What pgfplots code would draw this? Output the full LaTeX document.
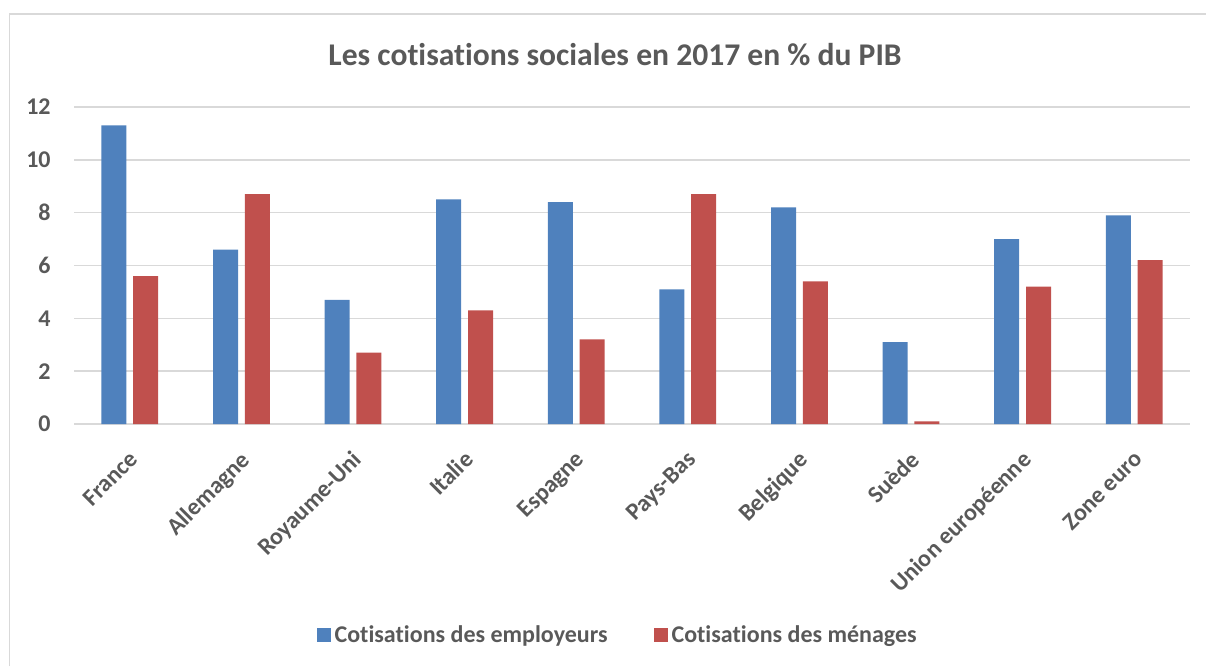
\documentclass[border=0pt]{standalone}
\usepackage{fontspec}
\setmainfont{Carlito}[Ligatures=NoCommon]
\usepackage{pgfplots}
\pgfplotsset{compat=1.18}
\definecolor{cblue}{HTML}{4F81BD}
\definecolor{cred}{HTML}{C0504D}
\definecolor{ctext}{HTML}{595959}
\definecolor{cgrid}{HTML}{D9D9D9}
\begin{document}
\begin{tikzpicture}[x=1pt,y=1pt]
\useasboundingbox (0,0) rectangle (603,333);
\draw[cgrid, line width=0.75pt] (4.75,0) -- (4.75,326) -- (604,326);
\node[font=\fontsize{15.8}{19}\selectfont\bfseries, text=ctext, anchor=base, inner sep=0pt] at (307.5,300.5) {Les cotisations sociales en 2017 en \% du PIB};
\begin{axis}[
  at={(37pt,121pt)}, anchor=south west,
  width=558pt, height=158.5pt, scale only axis,
  xmin=-0.5, xmax=9.5, ymin=0, ymax=12,
  ytick={0,2,...,12},
  xtick={0,...,9},
  xticklabels={France,Allemagne,Royaume-Uni,Italie,Espagne,Pays-Bas,Belgique,Suède,Union européenne,Zone euro},
  axis line style={draw=none},
  major tick length=0pt,
  ymajorgrids,
  grid style={cgrid, line width=0.75pt},
  /pgf/number format/assume math mode=true,
  tick label style={font=\fontsize{12}{14}\selectfont\bfseries, text=ctext},
  yticklabel style={anchor=east, inner sep=0pt, xshift=-11.5pt},
  xticklabel style={anchor=north east, inner sep=0pt, xshift=-1pt, yshift=-12.5pt, rotate=45},
  legend columns=2,
  legend style={at={(0.488,-0.666)}, anchor=center, draw=none, fill=none,
    font=\fontsize{12}{14}\selectfont\bfseries, text=ctext,
    /tikz/every even column/.append style={column sep=21pt},
    inner sep=0pt},
  legend image code/.code={\fill[#1] (0pt,-3.5pt) rectangle (7pt,3.5pt);},
]
\addplot[ybar, bar width=12.5pt, bar shift=-7.95pt, fill=cblue, draw=none]
  coordinates {(0,11.3) (1,6.6) (2,4.7) (3,8.5) (4,8.4) (5,5.1) (6,8.2) (7,3.1) (8,7.0) (9,7.9)};
\addplot[ybar, bar width=12.5pt, bar shift=7.95pt, fill=cred, draw=none]
  coordinates {(0,5.6) (1,8.7) (2,2.7) (3,4.3) (4,3.2) (5,8.7) (6,5.4) (7,0.1) (8,5.2) (9,6.2)};
\legend{Cotisations des employeurs, Cotisations des ménages}
\end{axis}
\end{tikzpicture}
\end{document}
